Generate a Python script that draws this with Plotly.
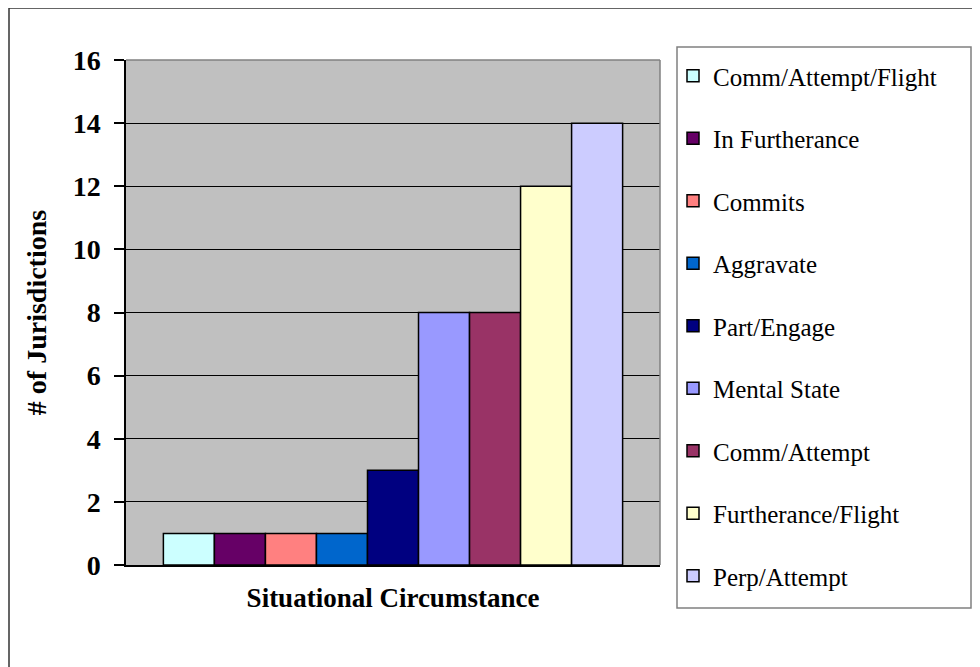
import plotly.graph_objects as go

categories = ["Situational Circumstance"]
series_names = ["Comm/Attempt/Flight", "In Furtherance", "Commits", "Aggravate",
                "Part/Engage", "Mental State", "Comm/Attempt", "Furtherance/Flight",
                "Perp/Attempt"]
series_values = [1, 1, 1, 1, 3, 8, 8, 12, 14]
series_colors = ["#CCFFFF", "#660066", "#FF8080", "#0066CC", "#000080",
                 "#9999FF", "#993366", "#FFFFCC", "#CCCCFF"]
y_ticks = [0, 2, 4, 6, 8, 10, 12, 14, 16]

FONT = "Liberation Serif, Times New Roman, serif"

fig = go.Figure()
for name, val, col in zip(series_names, series_values, series_colors):
    fig.add_trace(go.Bar(
        x=[categories[0]], y=[val], name=name, legendgroup=name,
        marker=dict(color=col, line=dict(color="black", width=1.5)),
    ))

OFF = 8  # page body margin
W, H = 980, 667
L, T = 126 - OFF, 60 - OFF
pw, ph = 534, 505
R, B = W - L - pw, H - T - ph

def px(x):
    return (x - OFF - L) / pw

def py(y):
    return (T + ph - (y - OFF)) / ph

shapes = [
    dict(type="rect", xref="paper", yref="paper", x0=px(9), x1=px(1010), y0=py(8), y1=py(700),
         line=dict(color="#333333", width=1.5), fillcolor="rgba(0,0,0,0)", layer="below"),
    dict(type="rect", xref="paper", yref="paper", x0=px(677), x1=px(971), y0=py(47), y1=py(608),
         line=dict(color="#808080", width=1.5), fillcolor="white", layer="below"),
    dict(type="line", xref="paper", yref="paper", x0=0, x1=1, y0=1, y1=1,
         line=dict(color="#808080", width=1.5)),
    dict(type="line", xref="paper", yref="paper", x0=1, x1=1, y0=0, y1=1,
         line=dict(color="#808080", width=1.5)),
]

fig.update_layout(
    width=W, height=H,
    margin=dict(l=L, r=R, t=T, b=B),
    paper_bgcolor="white",
    plot_bgcolor="#C0C0C0",
    barmode="group", bargap=0.14, bargroupgap=0,
    font=dict(family=FONT, color="black"),
    shapes=shapes,
    showlegend=True,
    legend=dict(
        x=px(673), y=py(53), xanchor="left", yanchor="top",
        font=dict(family=FONT, size=25, color="black"),
        bgcolor="rgba(0,0,0,0)", borderwidth=0,
        tracegroupgap=27, traceorder="grouped",
        maxheight=640,
        itemclick=False,
    ),
    xaxis=dict(
        showticklabels=False, ticks="", showgrid=False,
        showline=True, linecolor="black", linewidth=1.5,
        title=dict(text="<b>Situational Circumstance</b>", font=dict(family=FONT, size=27), standoff=22),
        fixedrange=True,
    ),
    yaxis=dict(
        range=[0, 16], tickvals=y_ticks, ticktext=[str(v) for v in y_ticks],
        ticks="outside", ticklen=10, tickcolor="black", tickwidth=1.5,
        tickfont=dict(family=FONT, size=28, weight="bold"),
        ticklabelstandoff=8,
        showgrid=True, gridcolor="black", gridwidth=1.2,
        showline=True, linecolor="black", linewidth=1.5,
        zeroline=False,
        title=dict(text="<b># of Jurisdictions</b>", font=dict(family=FONT, size=28), standoff=18),
        fixedrange=True,
    ),
)

fig.write_html("out.html")
